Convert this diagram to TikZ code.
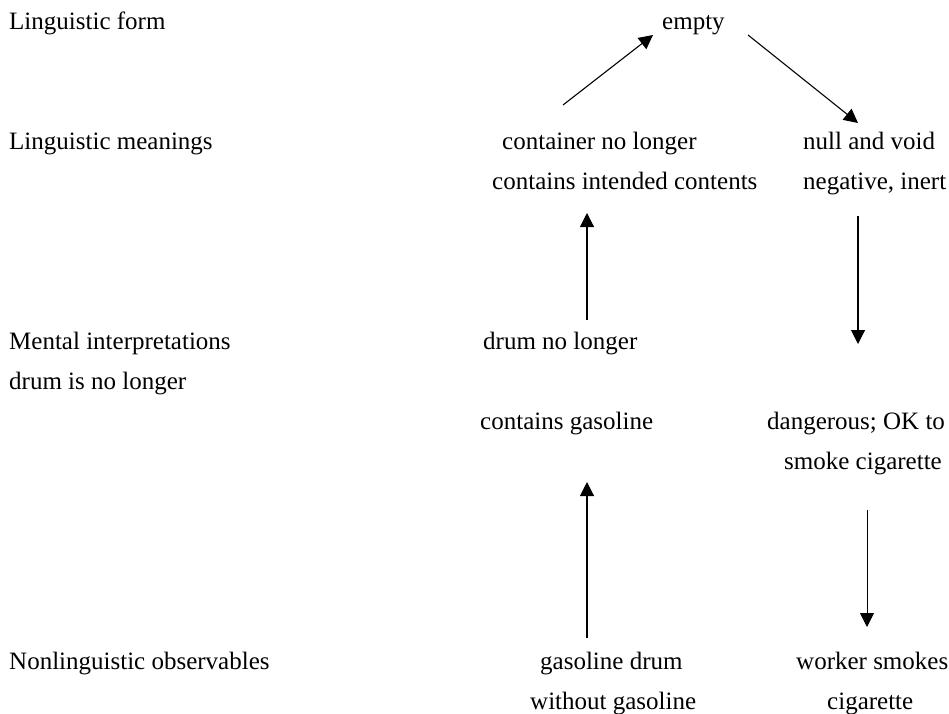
\documentclass[tikz,border=0pt]{standalone}
\usepackage{fontspec}
\setmainfont{Liberation Serif}
\usetikzlibrary{arrows.meta}
\begin{document}
\begin{tikzpicture}[x=1pt,y=-1pt,
  lbl/.style={anchor=base west,inner sep=0pt,font=\fontsize{25}{30}\selectfont},
  arr/.style={line width=1.1pt,-{Triangle[length=14pt,width=14pt]}},
  thinarr/.style={line width=0.75pt,-{Triangle[length=14pt,width=14pt]}}]
\useasboundingbox[fill=white] (0,0) rectangle (949,713);
% left column
\node[lbl] (lform) at (9,29) {Linguistic form};
\node[lbl] (lmean) at (9,149) {Linguistic meanings};
\node[lbl] (ment) at (9,349) {Mental interpretations};
\node[lbl] (drumis) at (9,389) {drum is no longer};
\node[lbl] (nonl) at (9,669) {Nonlinguistic observables};
% middle column
\node[lbl] (empty) at (662,29) {empty};
\node[lbl] (cnl) at (502,149) {container no longer};
\node[lbl] (cic) at (492,189) {contains intended contents};
\node[lbl] (dnl) at (483,349) {drum no longer};
\node[lbl] (cg) at (480,429) {contains gasoline};
\node[lbl] (gd) at (540,669) {gasoline drum};
\node[lbl] (wg) at (530,709) {without gasoline};
% right column
\node[lbl] (nav) at (803,149) {null and void};
\node[lbl] (neg) at (803,189) {negative, inert};
\node[lbl] (dang) at (767,429) {dangerous; OK to};
\node[lbl] (smoke) at (784,469) {smoke cigarette};
\node[lbl] (ws) at (796,669) {worker smokes};
\node[lbl] (cig) at (827,709) {cigarette};
% arrow end points
\coordinate (a1s) at (563,105);
\coordinate (a1e) at (653,35);
\coordinate (a2s) at (748,35);
\coordinate (a2e) at (858,123);
\coordinate (a3s) at (587,320);
\coordinate (a3e) at (587,213);
\coordinate (a4s) at (858,216);
\coordinate (a4e) at (858,344);
\coordinate (a5s) at (587,638);
\coordinate (a5e) at (587,482);
\coordinate (a6s) at (867,510);
\coordinate (a6e) at (867,627);
\draw[arr] (a1s) -- (a1e);
\draw[arr] (a2s) -- (a2e);
\draw[arr] (a3s) -- (a3e);
\draw[arr] (a4s) -- (a4e);
\draw[arr] (a5s) -- (a5e);
\draw[thinarr] (a6s) -- (a6e);
\end{tikzpicture}
\end{document}
